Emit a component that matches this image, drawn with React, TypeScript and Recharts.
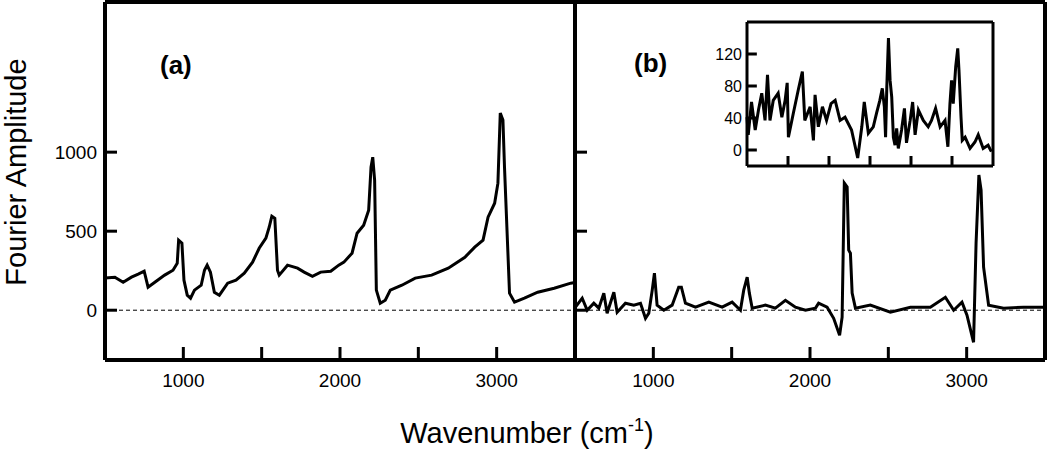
import React from 'react';
import { LineChart, Line, XAxis, YAxis, ReferenceLine } from 'recharts';

// panel (a): raw spectrum
const aWavenumber = [500, 563, 616, 669, 712, 750, 775, 818, 881, 934, 961, 970, 991, 1004, 1025, 1046, 1071, 1114, 1135, 1152, 1173, 1198, 1230, 1283, 1336, 1389, 1442, 1484, 1527, 1548, 1565, 1584, 1601, 1612, 1665, 1729, 1771, 1824, 1877, 1941, 1992, 2025, 2077, 2109, 2151, 2183, 2198, 2209, 2221, 2232, 2257, 2289, 2321, 2395, 2480, 2585, 2691, 2797, 2860, 2913, 2945, 2987, 3008, 3023, 3040, 3050, 3082, 3114, 3177, 3262, 3367, 3473, 3500];
const aAmplitude = [203, 209, 177, 209, 228, 247, 146, 177, 222, 253, 297, 443, 424, 190, 95, 76, 127, 158, 253, 285, 241, 114, 95, 171, 190, 234, 304, 392, 456, 525, 595, 582, 253, 222, 285, 266, 241, 215, 241, 247, 285, 304, 361, 487, 538, 633, 905, 968, 823, 127, 44, 63, 127, 158, 203, 222, 266, 335, 399, 443, 589, 677, 804, 1247, 1203, 905, 108, 51, 76, 114, 139, 171, 175];

// panel (b): corrected spectrum
const bWavenumber = [503, 546, 578, 620, 652, 684, 705, 748, 769, 822, 875, 918, 950, 971, 993, 1007, 1024, 1067, 1120, 1162, 1179, 1205, 1269, 1354, 1439, 1503, 1556, 1577, 1599, 1613, 1631, 1715, 1779, 1843, 1907, 1971, 2035, 2055, 2109, 2151, 2189, 2205, 2219, 2237, 2247, 2258, 2269, 2290, 2385, 2513, 2641, 2768, 2864, 2917, 2970, 3002, 3044, 3060, 3078, 3092, 3108, 3140, 3236, 3363, 3491];
const bAmplitude = [19, 76, 0, 44, 13, 108, -19, 114, -13, 44, 32, 44, -51, -19, 127, 234, 32, 0, 32, 146, 146, 44, 19, 51, 19, 51, 0, 127, 209, 108, 13, 32, 13, 63, 19, 0, 13, 44, 19, -51, -158, -44, 804, 779, 380, 361, 108, 13, 32, -13, 19, 19, 82, 0, 51, -32, -203, 424, 855, 760, 272, 32, 13, 19, 19];

// inset
const insetX = [0, 0.3, 1.1, 2.0, 2.8, 3.6, 4.4, 5.0, 5.6, 6.4, 7.6, 8.5, 9.3, 9.8, 10.1, 11.3, 12.5, 13.5, 14.1, 15.4, 16.2, 16.6, 17.4, 18.4, 19.4, 20.5, 21.5, 22.7, 23.9, 25.5, 27.0, 28.0, 28.6, 29.6, 30.8, 31.6, 32.4, 33.0, 33.5, 33.8, 34.1, 34.5, 34.9, 35.3, 35.7, 36.1, 36.5, 36.9, 37.7, 38.4, 38.9, 39.8, 40.4, 41.0, 41.8, 43.0, 44.2, 45.0, 46.0, 47.1, 48.3, 49.0, 49.5, 49.9, 50.3, 50.9, 51.4, 51.7, 52.2, 52.5, 53.2, 54.4, 55.6, 56.4, 57.6, 58.8, 59.6];
const insetY = [41, 19, 60, 25, 50, 71, 37, 94, 37, 62, 71, 41, 62, 84, 16, 46, 75, 98, 37, 54, 12, 69, 29, 54, 37, 58, 62, 37, 41, 25, -10, 29, 60, 21, 29, 46, 62, 77, 54, 16, 79, 140, 87, 66, 16, 6, 27, 2, 25, 52, 9, 37, 60, 19, 50, 37, 29, 37, 52, 29, 37, 4, 58, 87, 58, 104, 127, 100, 41, 12, 16, 2, 10, 19, 2, 6, -2];

const xTicks = [1000, 1500, 2000, 2500, 3000];
const yTicks = [0, 500, 1000];
const insetXTicks = [10, 20, 30, 40, 50];
const insetYTicks = [0, 40, 80, 120];

const dataA = aWavenumber.map((wn, i) => ({ wn, v: aAmplitude[i] }));
const dataB = bWavenumber.map((wn, i) => ({ wn, v: bAmplitude[i] }));
const dataInset = insetX.map((x, i) => ({ x, v: insetY[i] }));

const FONT = '"Liberation Sans", Arial, sans-serif';

const X_DOMAIN = [500, 3500];
const Y_DOMAIN = [-315, 1950];
const PLOT_W = 470;
const PLOT_H = 358;
// inward tick lengths converted to data units
const xTickLen = (13 * (Y_DOMAIN[1] - Y_DOMAIN[0])) / PLOT_H;
const yTickLen = (12 * (X_DOMAIN[1] - X_DOMAIN[0])) / PLOT_W;

const XLabel = (props: any) => {
  const { x, y, payload } = props;
  if (payload.value % 1000 !== 0) return <g />;
  return (
    <text x={x} y={y} textAnchor="middle" fontSize={19} fontFamily={FONT} fill="#000">
      {payload.value}
    </text>
  );
};

const YLabel = (props: any) => {
  const { x, y, payload, size } = props;
  return (
    <text x={x} y={y} dy="0.36em" textAnchor="end" fontSize={size} fontFamily={FONT} fill="#000">
      {payload.value}
    </text>
  );
};

const frame = (x0: number, x1: number, y0: number, y1: number, w: number) => [
  <ReferenceLine key="fl" x={x0} stroke="#000" strokeWidth={w} ifOverflow="visible" />,
  <ReferenceLine key="fr" x={x1} stroke="#000" strokeWidth={w} ifOverflow="visible" />,
  <ReferenceLine key="fb" y={y0} stroke="#000" strokeWidth={w} ifOverflow="visible" />,
  <ReferenceLine key="ft" y={y1} stroke="#000" strokeWidth={w} ifOverflow="visible" />,
];

const Panel = ({ data, showYLabels, yWidth, width }: any) => (
  <LineChart width={width} height={449} data={data} margin={{ top: 2, right: 5, left: 0, bottom: 0 }}>
    <XAxis
      dataKey="wn"
      type="number"
      domain={X_DOMAIN}
      ticks={xTicks}
      interval={0}
      allowDataOverflow
      axisLine={false}
      tickLine={false}
      tickSize={0}
      tickMargin={27}
      height={89}
      tick={<XLabel />}
    />
    <YAxis
      type="number"
      domain={Y_DOMAIN}
      ticks={yTicks}
      interval={0}
      allowDataOverflow
      axisLine={false}
      tickLine={false}
      tickSize={0}
      tickMargin={8}
      width={yWidth}
      tick={showYLabels ? <YLabel size={19} /> : false}
    />
    <ReferenceLine y={0} stroke="#000" strokeWidth={1} strokeDasharray="4 3" />
    {xTicks.map((t) => (
      <ReferenceLine
        key={'xt' + t}
        segment={[{ x: t, y: Y_DOMAIN[0] }, { x: t, y: Y_DOMAIN[0] + xTickLen }]}
        stroke="#000"
        strokeWidth={3}
        ifOverflow="visible"
      />
    ))}
    {yTicks.map((t) => (
      <ReferenceLine
        key={'yt' + t}
        segment={[{ x: X_DOMAIN[0], y: t }, { x: X_DOMAIN[0] + yTickLen, y: t }]}
        stroke="#000"
        strokeWidth={3}
        ifOverflow="visible"
      />
    ))}
    {frame(X_DOMAIN[0], X_DOMAIN[1], Y_DOMAIN[0], Y_DOMAIN[1], 4)}
    <Line type="linear" dataKey="v" stroke="#000" strokeWidth={3} dot={false} isAnimationActive={false} />
  </LineChart>
);

export default function App() {
  return (
    <div style={{ position: 'absolute', left: 0, top: 0, width: 1050, height: 449, background: '#fff', fontFamily: FONT }}>
      <div style={{ position: 'absolute', left: 0, top: 0 }}>
        <Panel data={dataA} showYLabels yWidth={105} width={580} />
      </div>
      <div style={{ position: 'absolute', left: 545, top: 0 }}>
        <Panel data={dataB} showYLabels={false} yWidth={30} width={505} />
      </div>
      <div style={{ position: 'absolute', left: 700, top: 0 }}>
        <LineChart width={300} height={180} data={dataInset} margin={{ top: 22, right: 7, left: 0, bottom: 0 }}>
          <XAxis
            dataKey="x"
            type="number"
            domain={[0, 60]}
            ticks={insetXTicks}
            interval={0}
            axisLine={false}
            tickLine={false}
            tick={false}
            height={14}
          />
          <YAxis
            type="number"
            domain={[-20, 160]}
            ticks={insetYTicks}
            interval={0}
            allowDataOverflow
            axisLine={false}
            tickLine={false}
            tickSize={0}
            tickMargin={5}
            width={47}
            tick={<YLabel size={16} />}
          />
          {insetXTicks.map((t) => (
            <ReferenceLine
              key={'ixt' + t}
              segment={[{ x: t, y: -20 }, { x: t, y: -20 + 12.5 }]}
              stroke="#000"
              strokeWidth={3}
              ifOverflow="visible"
            />
          ))}
          {insetYTicks.map((t) => (
            <ReferenceLine
              key={'iyt' + t}
              segment={[{ x: 0, y: t }, { x: 2.4, y: t }]}
              stroke="#000"
              strokeWidth={3}
              ifOverflow="visible"
            />
          ))}
          {frame(0, 60, -20, 160, 3)}
          <Line type="linear" dataKey="v" stroke="#000" strokeWidth={3} dot={false} isAnimationActive={false} />
        </LineChart>
      </div>
      <svg width={1050} height={449} style={{ position: 'absolute', left: 0, top: 0, pointerEvents: 'none' }}>
        <text x={160} y={74} fontSize={26} fontWeight="bold" fontFamily={FONT} fill="#000">(a)</text>
        <text x={634} y={72} fontSize={26} fontWeight="bold" fontFamily={FONT} fill="#000">(b)</text>
        <text
          transform="translate(26,172) rotate(-90)"
          textAnchor="middle"
          fontSize={29}
          fontFamily={FONT}
          fill="#000"
        >
          Fourier Amplitude
        </text>
        <text x={527} y={443} textAnchor="middle" fontSize={29} fontFamily={FONT} fill="#000">
          Wavenumber (cm<tspan fontSize={18} dy={-12}>-1</tspan><tspan dy={12}>)</tspan>
        </text>
      </svg>
    </div>
  );
}
